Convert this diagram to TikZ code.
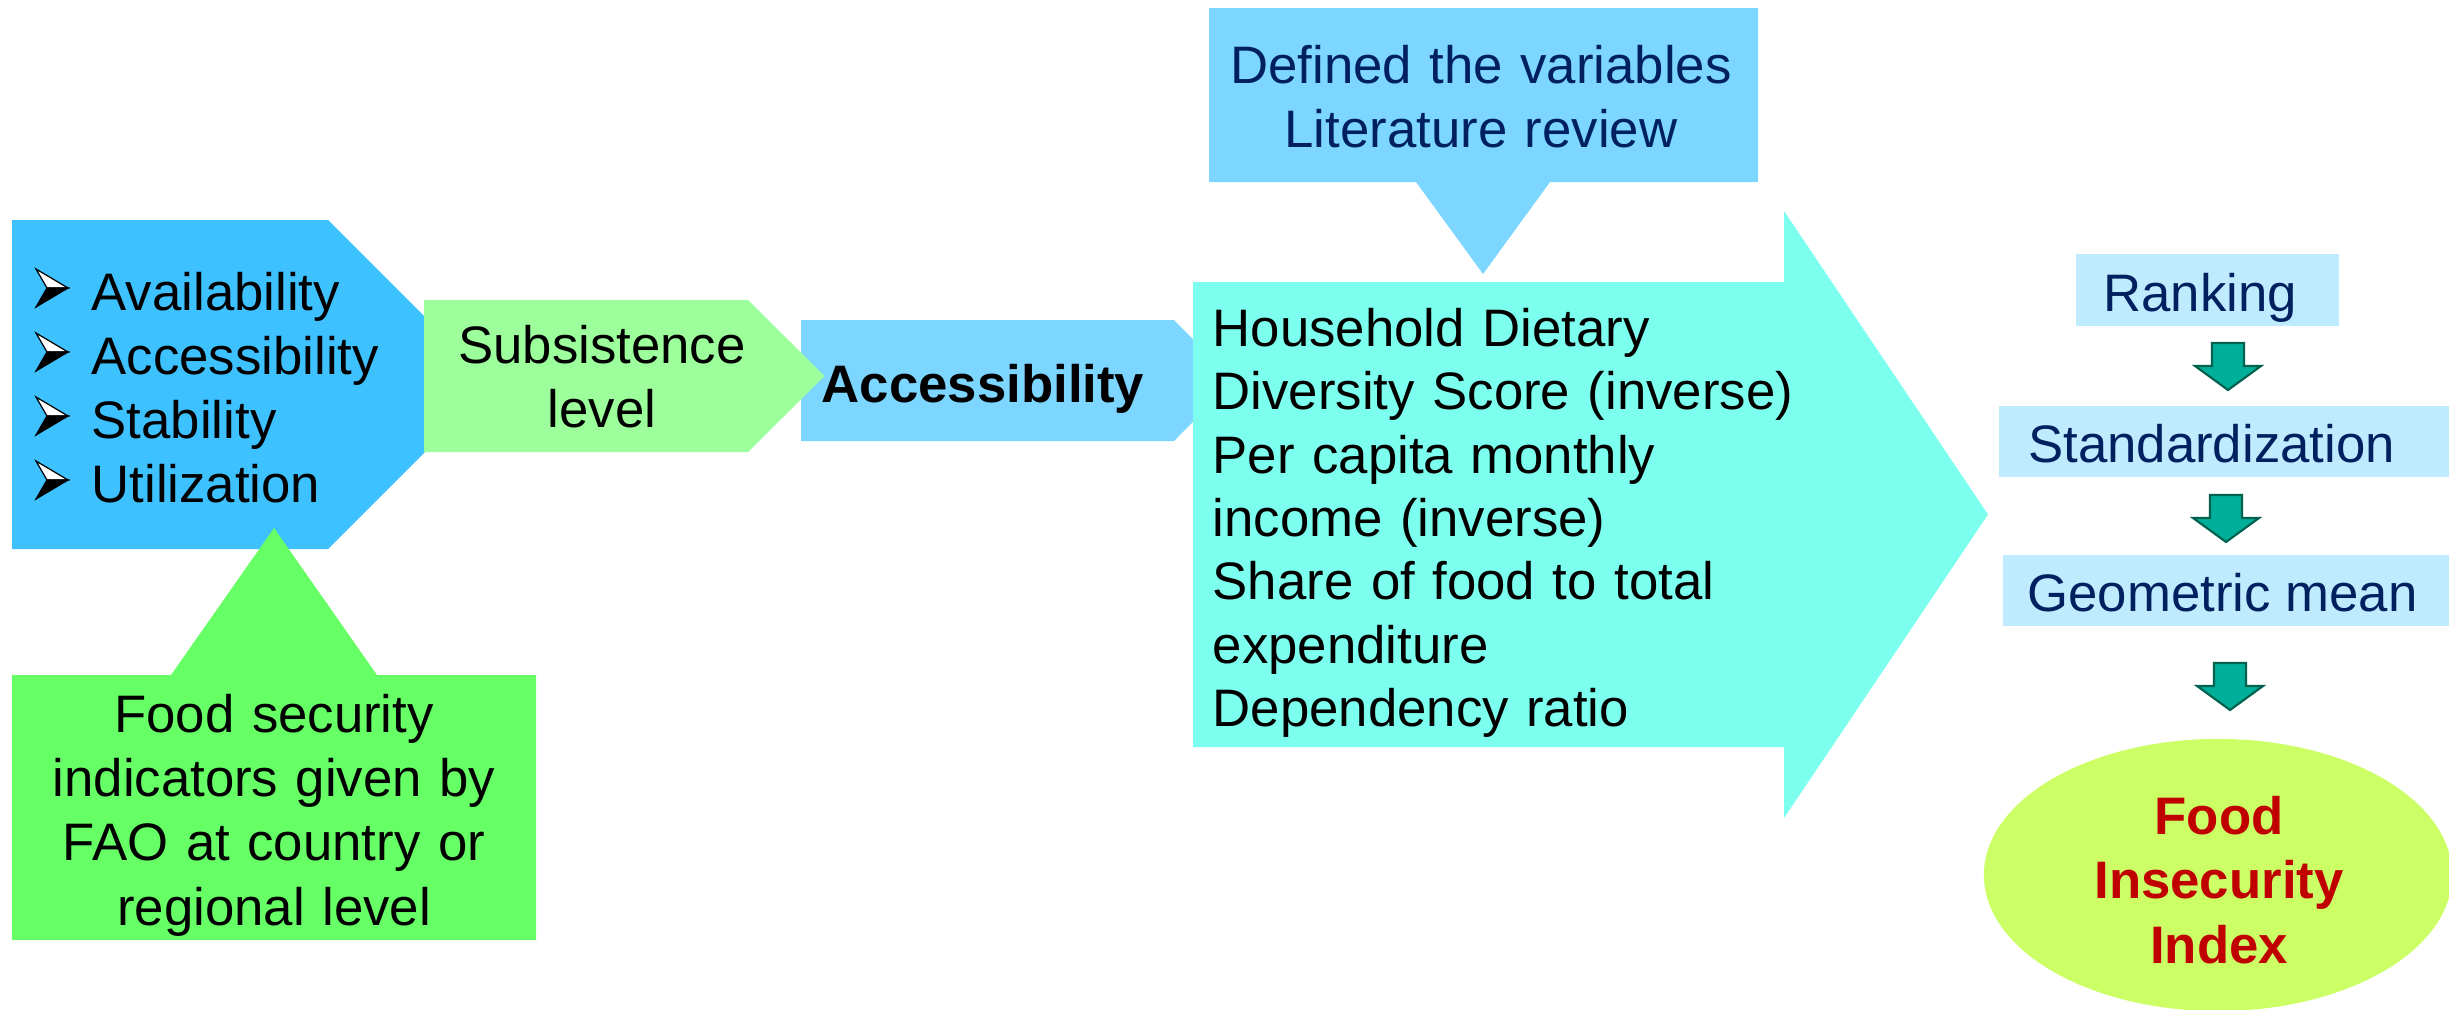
\documentclass[tikz,border=0pt]{standalone}
\usepackage{fontspec}
\setmainfont{Liberation Sans}
\usetikzlibrary{shapes.geometric}
\definecolor{pentblue}{HTML}{3DC1FF}
\definecolor{subgreen}{HTML}{9CFF9C}
\definecolor{fsgreen}{HTML}{66FF66}
\definecolor{accblue}{HTML}{7DD6FF}
\definecolor{cyanarr}{HTML}{7CFFEE}
\definecolor{rboxblue}{HTML}{BFEBFF}
\definecolor{navytxt}{HTML}{002060}
\definecolor{tealfill}{HTML}{00AF99}
\definecolor{tealline}{HTML}{00604E}
\definecolor{ellgreen}{HTML}{CCFF66}
\definecolor{darkred}{HTML}{C00000}
\begin{document}
\begin{tikzpicture}[x=0.01cm,y=-0.01cm,
  txt/.style={inner sep=0pt, font=\fontsize{15pt}{18.2pt}\selectfont},
  txtb/.style={inner sep=0pt, font=\fontsize{15pt}{18.35pt}\selectfont\bfseries},
  rbox/.style={fill=rboxblue, inner sep=0pt, draw=none},
  bulletarrow/.pic={
    \filldraw[fill=white, draw=black, line width=0.35pt, line join=miter] (0,0) -- (32,19) -- (11,19) -- cycle;
    \filldraw[fill=black, draw=black, line width=0.35pt, line join=miter] (11,19) -- (32,19) -- (0,38) -- cycle;
  },
  downarr/.pic={
    \filldraw[fill=tealfill, draw=tealline, line width=0.6pt, line join=miter]
      (-16,-47) -- (16,-47) -- (16,-24) -- (33,-24) -- (0,0) -- (-33,-24) -- (-16,-24) -- cycle;
  }]
\useasboundingbox (0,0) rectangle (2449,1009);

% --- left pentagon (FAO pillars)
\fill[pentblue] (12,220) -- (328,220) -- (492.5,384.5) -- (328,549) -- (12,549) -- cycle;

% --- accessibility pentagon
\fill[accblue] (801,320) -- (1174,320) -- (1234,380.5) -- (1174,441) -- (801,441) -- cycle;

% --- subsistence level pentagon
\fill[subgreen] (424,300) -- (748,300) -- (824.5,376) -- (748,452) -- (424,452) -- cycle;

% --- bottom callout
\fill[fsgreen] (12,675) -- (171,675) -- (274,528) -- (377,675) -- (536,675) -- (536,940) -- (12,940) -- cycle;

% --- top callout
\fill[accblue] (1209,8) -- (1758,8) -- (1758,182) -- (1550,182) -- (1483,274) -- (1416,182) -- (1209,182) -- cycle;

% --- big cyan arrow
\fill[cyanarr] (1193,282) -- (1784,282) -- (1784,211) -- (1988,514.5) -- (1784,818) -- (1784,747) -- (1193,747) -- cycle;

% --- texts
\node[txt, anchor=base west, text width=4cm, align=left] (pillars) at (91,310)
  {Availability\\Accessibility\\Stability\\Utilization};
\foreach \i in {0,...,3} \pic at (36,269+64*\i) {bulletarrow};

\node[txt, anchor=base, text width=4cm, align=center, font=\fontsize{15pt}{18.4pt}\selectfont] (subs) at (602,363)
  {Subsistence\\level};

\node[txtb, anchor=base west] (acc) at (821,402) {Accessibility};

\node[txt, anchor=base, text width=6cm, align=center, text=navytxt, font=\fontsize{15pt}{18.3pt}\selectfont] (lit) at (1481,83)
  {Defined the variables\\Literature review};

\node[txt, anchor=base west, text width=7cm, align=left, font=\fontsize{15pt}{18pt}\selectfont] (vars) at (1212,346.5)
  {Household Dietary\\Diversity Score (inverse)\\Per capita monthly\\income (inverse)\\Share of food to total\\expenditure\\Dependency ratio};

\node[txt, anchor=base, text width=5cm, align=center, font=\fontsize{15pt}{18.3pt}\selectfont] (fao) at (274,732)
  {Food security\\indicators given by\\FAO at country or\\regional level};

% --- right column
\node[rbox, minimum width=2.633cm, minimum height=0.717cm] (rk) at (2207.3,290) {};
\node[txt, anchor=base, text=navytxt] (rkt) at (2200,311.7) {Ranking};
\node[rbox, minimum width=4.5cm, minimum height=0.707cm] (st) at (2224,441.3) {};
\node[txt, anchor=base, text=navytxt] (stt) at (2211.5,462.3) {Standardization};
\node[rbox, minimum width=4.46cm, minimum height=0.71cm] (gm) at (2226,590.5) {};
\node[txt, anchor=base, text=navytxt] (gmt) at (2222.5,611.7) {Geometric mean};

\coordinate (a1) at (2228,390);
\coordinate (a2) at (2226,542);
\coordinate (a3) at (2230,710);
\pic at (a1) {downarr};
\pic at (a2) {downarr};
\pic at (a3) {downarr};

\node[ellipse, fill=ellgreen, inner sep=0pt, minimum width=4.68cm, minimum height=2.72cm] (fii) at (2218,875) {};
\node[txtb, anchor=base, text width=4cm, align=center, text=darkred] (fiit) at (2219,834)
  {Food\\Insecurity\\Index};
\end{tikzpicture}
\end{document}
